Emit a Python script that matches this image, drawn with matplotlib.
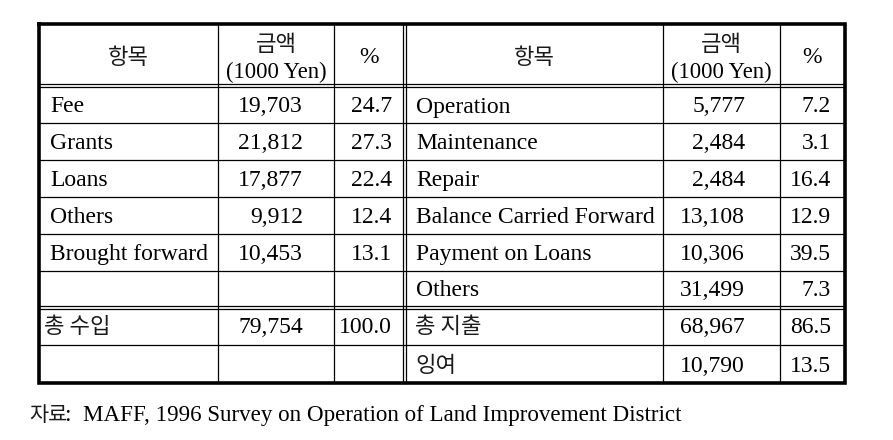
import matplotlib.pyplot as plt

# income side
income_items = ['Fee', 'Grants', 'Loans', 'Others', 'Brought forward']
income_amounts = ['19,703', '21,812', '17,877', '9,912', '10,453']
income_pct = ['24.7', '27.3', '22.4', '12.4', '13.1']
income_total = ('총 수입', '79,754', '100.0')

# expenditure side
expense_items = ['Operation', 'Maintenance', 'Repair', 'Balance Carried Forward',
                 'Payment on Loans', 'Others']
expense_amounts = ['5,777', '2,484', '2,484', '13,108', '10,306', '31,499']
expense_pct = ['7.2', '3.1', '16.4', '12.9', '39.5', '7.3']
expense_total = ('총 지출', '68,967', '86.5')
surplus = ('잉여', '10,790', '13.5')

header_item = '항목'
header_amount = ('금액', '(1000 Yen)')
header_pct = '%'
source_kr = '자료'
source_en = ':  MAFF, 1996 Survey on Operation of Land Improvement District'

W, H = 893, 440
fig = plt.figure(figsize=(W / 100, H / 100), dpi=100)
ax = fig.add_axes([0, 0, 1, 1])
ax.set_xlim(0, W)
ax.set_ylim(H, 0)
ax.axis('off')

LAT = ['Liberation Serif', 'DejaVu Serif']
KR = ['Noto Sans CJK KR', 'DejaVu Sans']
FS = 17
KFS = 16
thin = 0.9
thick = 2.6

# table geometry (pixels)
x0, x1 = 38.5, 844.5
y0, y1 = 24.5, 383.5
cols_left = [x0, 218, 334, 403]
cols_right = [406, 663, 780, x1]
row_lines = [123, 160, 197, 234, 271, 345]
double_h = [(84, 87), (306, 309)]
row_edges = [87, 123, 160, 197, 234, 271, 306, 345, 383]

# outer box
ax.plot([x0, x1, x1, x0, x0], [y0, y0, y1, y1, y0], color='black', lw=thick,
        solid_joinstyle='miter')
# vertical lines
for x in cols_left[1:3] + cols_right[1:3] + [403, 406]:
    ax.plot([x, x], [y0, y1], color='black', lw=thin)
# horizontal lines
for y in row_lines:
    ax.plot([x0, x1], [y, y], color='black', lw=thin)
for ya, yb in double_h:
    ax.plot([x0, x1], [ya, ya], color='black', lw=thin)
    ax.plot([x0, x1], [yb, yb], color='black', lw=thin)


def lat(x, yb, s, ha='left', fs=FS):
    ax.text(x, yb, s, ha=ha, va='baseline', fontsize=fs, family=LAT)


def kor(x, yb, s, ha='left', fs=KFS):
    ax.text(x, yb, s, ha=ha, va='baseline', fontsize=fs, family=KR,
            color='#1a1a1a')


# headers
for cols in (cols_left, cols_right):
    kor((cols[0] + cols[1]) / 2, 64, header_item, 'center')
    kor((cols[1] + cols[2]) / 2, 51, header_amount[0], 'center')
    lat((cols[1] + cols[2]) / 2, 78, header_amount[1], 'center', fs=16.3)
    lat((cols[2] + cols[3]) / 2, 63, header_pct, 'center')

base = [(row_edges[i] + row_edges[i + 1]) / 2 + 7.5 for i in range(len(row_edges) - 1)]

for i, (name, amt, pct) in enumerate(zip(income_items, income_amounts, income_pct)):
    lat(50, base[i], name)
    lat(303, base[i], amt, 'right')
    lat(392, base[i], pct, 'right')

for i, (name, amt, pct) in enumerate(zip(expense_items, expense_amounts, expense_pct)):
    lat(416, base[i], name)
    lat(745, base[i], amt, 'right')
    lat(831, base[i], pct, 'right')

kor(44, base[6], income_total[0])
lat(303, base[6], income_total[1], 'right')
lat(392, base[6], income_total[2], 'right')

kor(415, base[6], expense_total[0])
lat(745, base[6], expense_total[1], 'right')
lat(831, base[6], expense_total[2], 'right')

kor(415, base[7], surplus[0])
lat(745, base[7], surplus[1], 'right')
lat(831, base[7], surplus[2], 'right')

# source note
kor(29, 421, source_kr, fs=15)
lat(65, 421, source_en, fs=16.6)

fig.savefig('out.png', dpi=100)
